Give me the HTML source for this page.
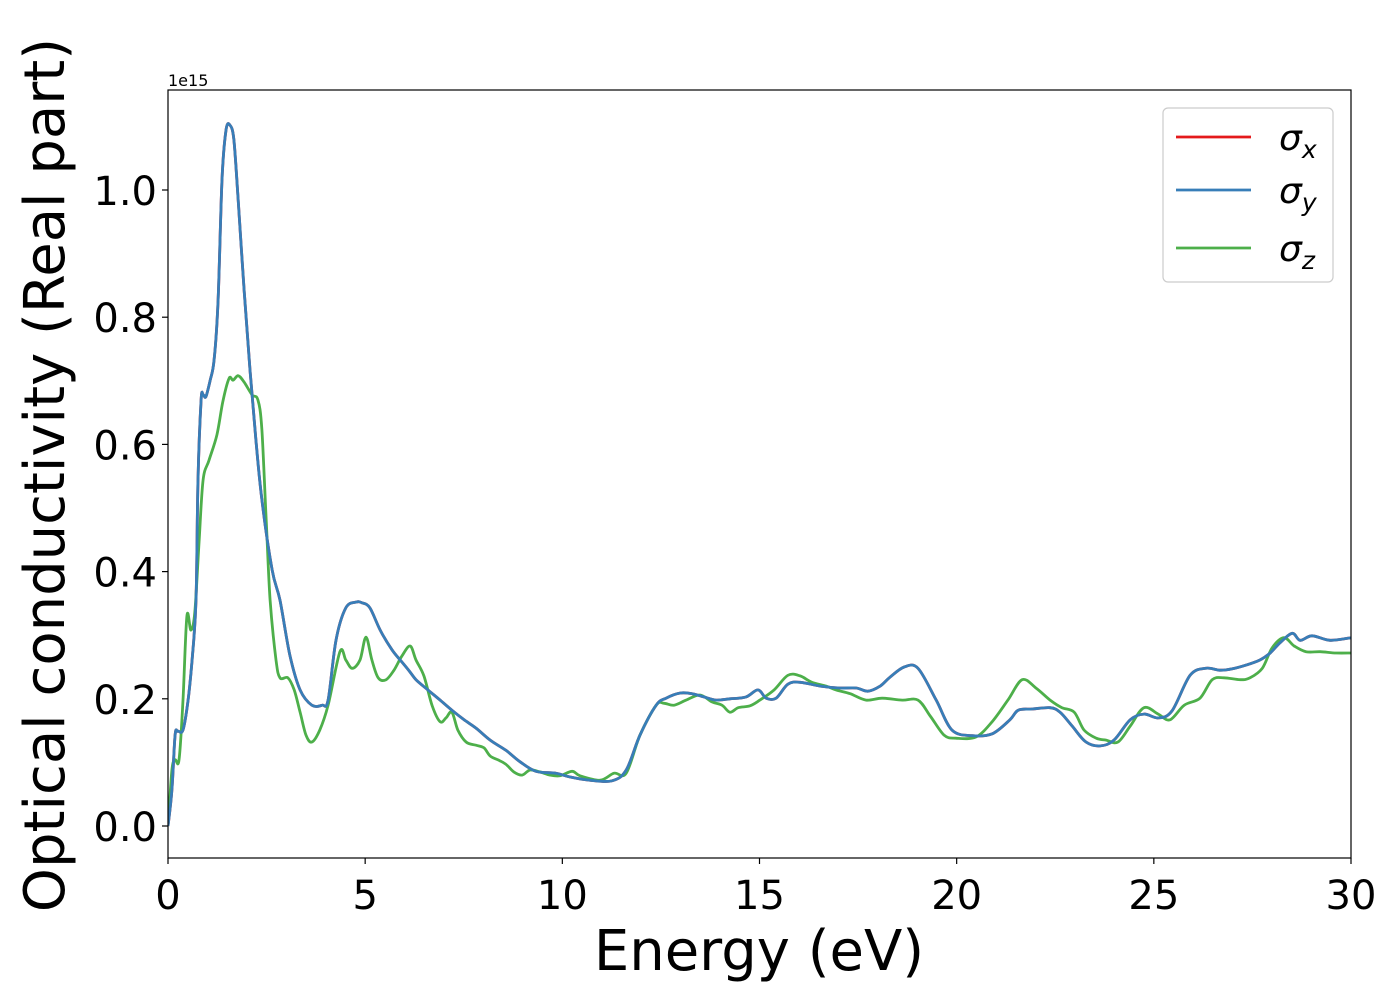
<!DOCTYPE html>
<html><head><meta charset="utf-8"><style>
body{margin:0;background:#fff;}
svg{display:block;font-family:"DejaVu Sans","Liberation Sans",sans-serif;}
</style></head><body>
<svg id="chart" width="1400" height="1000">
<rect width="1400" height="1000" fill="#fff"/>
<g id="plot"></g>
</svg>
<script>
const xTicks=[0,5,10,15,20,25,30];
const yTicks=[0.0,0.2,0.4,0.6,0.8,1.0];
const yTickLabels=["0.0","0.2","0.4","0.6","0.8","1.0"];
const seriesNames=["σx","σy","σz"];
const blueE=[0,0.10,0.18,0.25,0.38,0.51,0.61,0.71,0.76,0.84,0.89,0.96,1.07,1.17,1.27,1.37,1.47,1.57,1.67,1.78,1.93,2.08,2.23,2.38,2.64,2.84,3.09,3.35,3.65,3.91,4.06,4.26,4.51,4.77,4.92,5.12,5.38,5.68,5.93,6.14,6.29,6.59,6.90,7.20,7.51,7.81,8.17,8.57,8.93,9.33,9.84,10.20,10.70,11.26,11.62,11.97,12.38,12.63,12.98,13.29,13.59,13.90,14.25,14.66,14.96,15.17,15.42,15.72,16.03,16.54,17.04,17.45,17.75,18.06,18.31,18.67,19.02,19.48,19.88,20.39,20.90,21.35,21.56,21.91,22.37,22.62,22.93,23.28,23.64,23.99,24.40,24.75,25.11,25.46,25.92,26.32,26.68,26.98,27.34,27.69,27.95,28.20,28.51,28.71,29.01,29.47,30];
const blueV=[0,.057,.143,.149,.151,.198,.261,.355,.544,.670,.678,.675,.701,.733,.827,1.016,1.094,1.102,1.079,.984,.843,.717,.607,.513,.403,.355,.269,.214,.190,.190,.198,.292,.343,.352,.351,.343,.308,.277,.258,.242,.230,.214,.198,.182,.167,.154,.135,.119,.101,.086,.083,.077,.072,.071,.088,.143,.190,.201,.209,.208,.203,.198,.200,.203,.214,.201,.201,.223,.226,.220,.217,.217,.212,.220,.234,.250,.248,.198,.151,.142,.145,.167,.182,.184,.186,.179,.157,.132,.126,.135,.167,.176,.170,.181,.237,.248,.245,.247,.253,.261,.272,.288,.303,.292,.299,.292,.296];
const redE=blueE.slice();
const redV=blueV.slice();
const greenE=[0,.10,.18,.28,.38,.48,.58,.68,.79,.89,1.04,1.24,1.39,1.55,1.65,1.78,1.93,2.13,2.28,2.38,2.49,2.59,2.74,2.84,3.04,3.20,3.35,3.50,3.65,3.85,4.06,4.36,4.51,4.67,4.87,5.02,5.17,5.33,5.53,5.73,5.93,6.14,6.29,6.49,6.70,6.90,7.05,7.20,7.35,7.56,7.81,8.01,8.17,8.37,8.57,8.77,8.98,9.18,9.43,9.69,9.94,10.25,10.45,10.96,11.31,11.62,11.97,12.38,12.58,12.83,13.14,13.49,13.80,14.05,14.25,14.46,14.76,15.01,15.37,15.72,16.03,16.33,16.69,16.94,17.30,17.70,18.11,18.62,19.02,19.33,19.68,19.98,20.49,20.90,21.30,21.66,22.01,22.37,22.67,22.98,23.23,23.54,23.79,24.09,24.40,24.75,25.11,25.41,25.77,26.17,26.48,26.78,27.19,27.44,27.75,28.00,28.30,28.56,28.86,29.22,29.62,30];
const greenV=[0,.088,.104,.104,.198,.330,.308,.336,.450,.544,.575,.615,.667,.704,.701,.708,.698,.678,.670,.623,.481,.355,.261,.233,.233,.214,.179,.143,.132,.151,.190,.274,.261,.248,.261,.297,.261,.233,.230,.245,.267,.283,.261,.236,.189,.164,.170,.179,.151,.132,.127,.123,.110,.104,.097,.085,.080,.088,.085,.080,.079,.086,.079,.072,.083,.083,.143,.190,.193,.190,.198,.206,.195,.190,.179,.186,.189,.198,.214,.237,.236,.226,.220,.214,.208,.198,.201,.198,.198,.173,.143,.138,.140,.164,.198,.230,.217,.198,.186,.179,.151,.138,.135,.132,.157,.186,.176,.167,.190,.201,.230,.233,.230,.233,.248,.280,.296,.283,.274,.274,.272,.272];

const X0=168,X1=1351,Y0=90,Y1=858;
const xs=v=>X0+(v-0)/(30-0)*(X1-X0);
const ys=v=>826-v*636;
const NS="http://www.w3.org/2000/svg";
const svg=document.getElementById('chart');
function mk(tag,attrs,parent){const e=document.createElementNS(NS,tag);for(const k in attrs)e.setAttribute(k,attrs[k]);(parent||svg).appendChild(e);return e;}

const defs=mk('defs',{});
const cp=mk('clipPath',{id:'clip'},defs);
mk('rect',{x:X0,y:Y0,width:X1-X0,height:Y1-Y0},cp);

function smoothPath(P){
  let d='M'+P[0][0].toFixed(1)+','+P[0][1].toFixed(1);
  for(let i=0;i<P.length-1;i++){
    const p0=P[Math.max(0,i-1)],p1=P[i],p2=P[i+1],p3=P[Math.min(P.length-1,i+2)];
    const t=1/6;
    const c1=[p1[0]+(p2[0]-p0[0])*t,p1[1]+(p2[1]-p0[1])*t];
    const c2=[p2[0]-(p3[0]-p1[0])*t,p2[1]-(p3[1]-p1[1])*t];
    d+=' C'+c1[0].toFixed(1)+','+c1[1].toFixed(1)+' '+c2[0].toFixed(1)+','+c2[1].toFixed(1)+' '+p2[0].toFixed(1)+','+p2[1].toFixed(1);
  }
  return d;
}
function line(E,V,color,name){
  const pts=E.map((e,i)=>[xs(e),ys(V[i])]);
  const p=mk('path',{d:smoothPath(pts),fill:'none',stroke:color,'stroke-width':2.8,'stroke-linejoin':'round','clip-path':'url(#clip)'});
  
  
}
line(redE,redV,'#e41a1c','series-sigma-x');
line(greenE,greenV,'#4daf4a','series-sigma-z');
line(blueE,blueV,'#377eb8','series-sigma-y');

const frame=mk('rect',{x:X0,y:Y0,width:X1-X0,height:Y1-Y0,fill:'none',stroke:'#000','stroke-width':1.2});



xTicks.forEach(t=>{
  const x=xs(t);
  const tk=mk('line',{x1:x,x2:x,y1:Y1,y2:Y1+6,stroke:'#000','stroke-width':1.2});
  
  
  const tx=mk('text',{x:x,y:909,'text-anchor':'middle','font-size':40,fill:'#000'});
  tx.textContent=String(t);
  
  
});
yTicks.forEach((t,i)=>{
  const y=ys(t);
  const tk=mk('line',{x1:X0-6,x2:X0,y1:y,y2:y,stroke:'#000','stroke-width':1.2});
  
  
  const tx=mk('text',{x:157,y:y+15,'text-anchor':'end','font-size':40,fill:'#000'});
  tx.textContent=yTickLabels[i];
  
  
});
</script>
<svg style="position:absolute;left:0;top:0" width="1400" height="1000">
<text x="168" y="86" font-size="16" font-family="DejaVu Sans, sans-serif">1e15</text>
<text x="759" y="970" text-anchor="middle" font-size="56" font-family="DejaVu Sans, sans-serif">Energy (eV)</text>
<text transform="translate(64,475) rotate(-90)" text-anchor="middle" font-size="56" font-family="DejaVu Sans, sans-serif">Optical conductivity (Real part)</text>
<g font-family="DejaVu Sans, sans-serif">
<rect x="1163" y="108" width="170" height="174" rx="5" fill="#fff" stroke="#ccc" stroke-width="1.2"/>
<line x1="1176" y1="137" x2="1251" y2="137" stroke="#e41a1c" stroke-width="2.8"/>
<text x="1279" y="150" font-size="36" font-style="italic">σ<tspan font-size="25" dy="8">x</tspan></text>
<line x1="1176" y1="190" x2="1251" y2="190" stroke="#377eb8" stroke-width="2.8"/>
<text x="1279" y="203" font-size="36" font-style="italic">σ<tspan font-size="25" dy="8">y</tspan></text>
<line x1="1176" y1="248" x2="1251" y2="248" stroke="#4daf4a" stroke-width="2.8"/>
<text x="1279" y="261" font-size="36" font-style="italic">σ<tspan font-size="25" dy="8">z</tspan></text>
</g>
</svg>
</body></html>
